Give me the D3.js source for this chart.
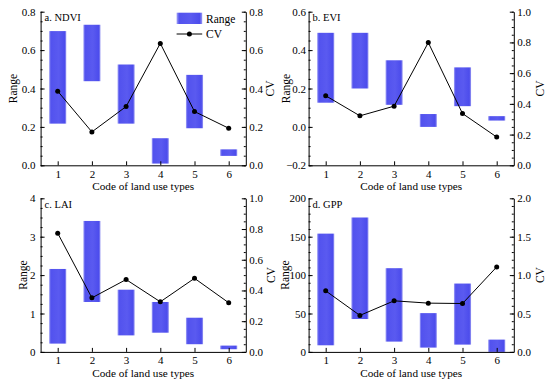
<!DOCTYPE html>
<html>
<head>
<meta charset="utf-8">
<script src="https://cdn.jsdelivr.net/npm/d3@7"></script>
<style>
  body { margin: 0; background: #fff; }
  svg { display: block; font-family: 'Liberation Serif', 'Times New Roman', serif; }
</style>
</head>
<body>
<svg id="chart" width="550" height="387"></svg>
<script>
const codes = [1, 2, 3, 4, 5, 6];

// a. NDVI
const ndviLow = [0.217, 0.438, 0.217, 0.009, 0.193, 0.049];
const ndviHigh = [0.699, 0.732, 0.525, 0.141, 0.471, 0.083];
const ndviCV = [0.386, 0.174, 0.306, 0.635, 0.28, 0.193];

// b. EVI
const eviLow = [0.126, 0.2, 0.115, 0.0, 0.108, 0.033];
const eviHigh = [0.49, 0.49, 0.347, 0.067, 0.31, 0.056];
const eviCV = [0.453, 0.322, 0.385, 0.799, 0.337, 0.184];

// c. LAI
const laiLow = [0.216, 1.3, 0.43, 0.5, 0.2, 0.07];
const laiHigh = [2.16, 3.41, 1.62, 1.3, 0.89, 0.164];
const laiCV = [0.773, 0.352, 0.471, 0.326, 0.479, 0.32];

// d. GPP
const gppLow = [8.6, 42.8, 13.4, 5.6, 9.5, 0];
const gppHigh = [154, 175, 109, 50.5, 89, 16];
const gppCV = [0.795, 0.475, 0.665, 0.635, 0.63, 1.106];

const panels = [
  { label: 'a. NDVI', low: ndviLow, high: ndviHigh, cv: ndviCV,
    yDom: [0, 0.8], yStep: 0.2, yMinor: 0.05, yFmt: '.1f',
    cvDom: [0, 0.8], cvStep: 0.2, cvMinor: 0.05, col: 0, row: 0, legend: true },
  { label: 'b. EVI', low: eviLow, high: eviHigh, cv: eviCV,
    yDom: [-0.2, 0.6], yStep: 0.2, yMinor: 0.05, yFmt: '.1f',
    cvDom: [0, 1.0], cvStep: 0.2, cvMinor: 0.05, col: 1, row: 0 },
  { label: 'c. LAI', low: laiLow, high: laiHigh, cv: laiCV,
    yDom: [0, 4], yStep: 1, yMinor: 0.25, yFmt: 'd',
    cvDom: [0, 1.0], cvStep: 0.2, cvMinor: 0.05, col: 0, row: 1 },
  { label: 'd. GPP', low: gppLow, high: gppHigh, cv: gppCV,
    yDom: [0, 200], yStep: 50, yMinor: 10, yFmt: 'd',
    cvDom: [0, 2.0], cvStep: 0.5, cvMinor: 0.1, col: 1, row: 1 },
];

const colLeft = [40.6, 308.6];
const colPad = [5, 2.5];
const rowTop = [11.7, 198.3];
const plotW = 205.2;
const plotH = 153.6;

const svg = d3.select('#chart');

const defs = svg.append('defs');
const grad = defs.append('linearGradient')
  .attr('id', 'barGrad')
  .attr('x1', '0%').attr('x2', '100%').attr('y1', '0%').attr('y2', '0%');
grad.append('stop').attr('offset', '0%').attr('stop-color', '#a4a4f6');
grad.append('stop').attr('offset', '10%').attr('stop-color', '#5252ee');
grad.append('stop').attr('offset', '55%').attr('stop-color', '#5a5af0');
grad.append('stop').attr('offset', '90%').attr('stop-color', '#4c4cec');
grad.append('stop').attr('offset', '100%').attr('stop-color', '#9a9af2');

const range = (a, b, s) => {
  const out = [];
  const n = Math.round((b - a) / s);
  for (let i = 0; i <= n; i++) out.push(+(a + i * s).toFixed(6));
  return out;
};

const styleAxis = (g, size) => {
  g.select('.domain').attr('stroke', '#000').attr('stroke-width', 1);
  g.selectAll('.tick line').attr('stroke', '#000').attr('stroke-width', 1);
  g.selectAll('text').attr('fill', '#000').style('font-size', size + 'px')
    .style('font-family', "'Liberation Serif', 'Times New Roman', serif");
};

panels.forEach((p) => {
  const left = colLeft[p.col];
  const top = rowTop[p.row];
  const right = left + plotW;
  const bottom = top + plotH;

  const x = d3.scaleLinear().domain([0.5, 6.5]).range([left, right]);
  const y = d3.scaleLinear().domain(p.yDom).range([bottom, top]);
  const yCV = d3.scaleLinear().domain(p.cvDom).range([bottom, top]);

  const g = svg.append('g').attr('class', 'panel');

  // bars
  const bw = x(1.25) - x(0.75);
  g.append('g')
    .selectAll('rect')
    .data(codes)
    .join('rect')
    .attr('x', (d) => x(d) - bw / 2)
    .attr('y', (d, i) => y(p.high[i]))
    .attr('width', bw)
    .attr('height', (d, i) => y(p.low[i]) - y(p.high[i]))
    .attr('fill', 'url(#barGrad)');

  // CV line
  const line = d3.line()
    .x((d) => x(d))
    .y((d, i) => yCV(p.cv[i]));
  g.append('path')
    .datum(codes)
    .attr('d', line)
    .attr('fill', 'none')
    .attr('stroke', '#000')
    .attr('stroke-width', 1);
  g.append('g')
    .selectAll('circle')
    .data(codes)
    .join('circle')
    .attr('cx', (d) => x(d))
    .attr('cy', (d, i) => yCV(p.cv[i]))
    .attr('r', 2.5)
    .attr('fill', '#000');

  // minor ticks
  const yMinors = range(p.yDom[0], p.yDom[1], p.yMinor);
  const cvMinors = range(p.cvDom[0], p.cvDom[1], p.cvMinor);
  g.append('g')
    .attr('transform', `translate(${left},0)`)
    .call(d3.axisLeft(y).tickValues(yMinors).tickSize(-2).tickFormat(''))
    .call((a) => a.select('.domain').remove())
    .call((a) => a.selectAll('line').attr('stroke', '#000'));
  g.append('g')
    .attr('transform', `translate(${right},0)`)
    .call(d3.axisRight(yCV).tickValues(cvMinors).tickSize(-2).tickFormat(''))
    .call((a) => a.select('.domain').remove())
    .call((a) => a.selectAll('line').attr('stroke', '#000'));

  // major axes
  const yTicks = range(p.yDom[0], p.yDom[1], p.yStep);
  const cvTicks = range(p.cvDom[0], p.cvDom[1], p.cvStep);

  g.append('g')
    .attr('transform', `translate(${left},0)`)
    .call(d3.axisLeft(y).tickValues(yTicks).tickSize(-4).tickSizeOuter(0)
      .tickPadding(colPad[p.col]).tickFormat(d3.format(p.yFmt)))
    .call((a) => styleAxis(a, 11));

  g.append('g')
    .attr('transform', `translate(${right},0)`)
    .call(d3.axisRight(yCV).tickValues(cvTicks).tickSize(-4).tickSizeOuter(0)
      .tickPadding(3.5).tickFormat(d3.format('.1f')))
    .call((a) => styleAxis(a, 11));

  g.append('g')
    .attr('transform', `translate(0,${bottom})`)
    .call(d3.axisBottom(x).tickValues(codes).tickSize(-4).tickSizeOuter(0)
      .tickPadding(4.7).tickFormat(d3.format('d')))
    .call((a) => styleAxis(a, 11));

  // titles
  g.append('text')
    .attr('x', (left + right) / 2)
    .attr('y', bottom + 25)
    .attr('text-anchor', 'middle')
    .style('font-size', '11.2px')
    .text('Code of land use types');

  const leftTitleX = [12.7, 286, 22.7, 285][panels.indexOf(p)];
  const rightTitleX = [270, 540, 270.7, 540][panels.indexOf(p)];
  const midY = (top + bottom) / 2;

  g.append('text')
    .attr('transform', `translate(${leftTitleX},${midY})rotate(-90)`)
    .attr('text-anchor', 'middle')
    .attr('dy', '0.35em')
    .style('font-size', '11.5px')
    .text('Range');

  g.append('text')
    .attr('transform', `translate(${rightTitleX},${midY})rotate(-90)`)
    .attr('text-anchor', 'middle')
    .attr('dy', '0.35em')
    .style('font-size', '11.5px')
    .text('CV');

  g.append('text')
    .attr('x', left + 4)
    .attr('y', top + 9.5)
    .style('font-size', '10.5px')
    .text(p.label);

  if (p.legend) {
    const lg = g.append('g').attr('transform', `translate(${left + 136},${top})`);
    lg.append('rect')
      .attr('x', 0).attr('y', 1).attr('width', 25.6).attr('height', 11.3)
      .attr('fill', 'url(#barGrad)');
    lg.append('text')
      .attr('x', 29.5).attr('y', 11.3)
      .style('font-size', '11.5px')
      .text('Range');
    lg.append('line')
      .attr('x1', 0).attr('x2', 25.6).attr('y1', 22.3).attr('y2', 22.3)
      .attr('stroke', '#000').attr('stroke-width', 1);
    lg.append('circle')
      .attr('cx', 12.8).attr('cy', 22.3).attr('r', 2.5).attr('fill', '#000');
    lg.append('text')
      .attr('x', 29.5).attr('y', 26.5)
      .style('font-size', '11.5px')
      .text('CV');
  }
});
</script>
</body>
</html>
